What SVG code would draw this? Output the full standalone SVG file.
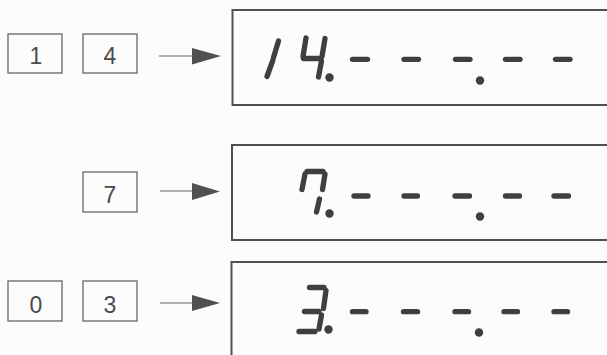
<svg xmlns="http://www.w3.org/2000/svg" width="607" height="355" viewBox="0 0 607 355">
  <style>
    .key rect { fill: none; stroke: #666; stroke-width: 1.3; }
    .key text { font-family: "Liberation Sans", Arial, sans-serif; font-size: 23px; fill: #4a4a4a; text-anchor: middle; }
    .disp rect { fill: none; stroke: #505050; stroke-width: 2; }
    .seg { stroke: #3f3f3f; stroke-width: 5.3; stroke-linecap: round; fill: none; }
    .dp { fill: #3f3f3f; }
    .conn line { stroke: #666; stroke-width: 1.2; }
    .conn polygon { fill: #505050; }
  </style>
  <rect x="0" y="0" width="607" height="355" fill="#fcfcfc"/>

  <!-- Row 1 keys -->
  <g id="key-1" class="key"><rect x="8" y="34" width="54" height="39"/><text x="36" y="64">1</text></g>
  <g id="key-4" class="key"><rect x="83" y="34" width="54" height="39"/><text x="110" y="64">4</text></g>
  <!-- Row 2 key -->
  <g id="key-7" class="key"><rect x="83" y="172" width="54" height="40"/><text x="110" y="202.5">7</text></g>
  <!-- Row 3 keys -->
  <g id="key-0" class="key"><rect x="8" y="281" width="54" height="40"/><text x="36" y="312.5">0</text></g>
  <g id="key-3" class="key"><rect x="83" y="281" width="54" height="40"/><text x="110" y="312.5">3</text></g>

  <!-- Connectors -->
  <g id="connectors" class="conn">
    <line x1="159" y1="56" x2="193" y2="56"/>
    <polygon points="192,48 221,56 192,64.5"/>
    <line x1="160" y1="191" x2="193" y2="191"/>
    <polygon points="192,183 220,191.5 192,200"/>
    <line x1="160" y1="303" x2="193" y2="303"/>
    <polygon points="192,295 220,303 192,311"/>
  </g>

  <!-- Display 1: 14.- - -.- - -->
  <g id="display-1" class="disp">
    <rect x="232.5" y="10" width="400" height="95"/>
    <line class="seg" x1="278.5" y1="41" x2="273.5" y2="57.5"/>
    <line class="seg" x1="272.8" y1="60.5" x2="267" y2="76.5"/>
    <line class="seg" x1="306" y1="38" x2="303" y2="56.5"/>
    <line class="seg" x1="303.5" y1="58.5" x2="319" y2="58.5"/>
    <line class="seg" x1="325" y1="38.5" x2="322" y2="56.5"/>
    <line class="seg" x1="321.5" y1="61" x2="318.5" y2="77"/>
    <circle class="dp" cx="329.5" cy="77.5" r="4.2"/>
    <line class="seg" x1="352.5" y1="59.3" x2="367.5" y2="59.3"/>
    <line class="seg" x1="404" y1="59.3" x2="418.5" y2="59.3"/>
    <line class="seg" x1="455.5" y1="59.3" x2="470" y2="59.3"/>
    <circle class="dp" cx="480" cy="80.5" r="4.2"/>
    <line class="seg" x1="505.5" y1="59.3" x2="520" y2="59.3"/>
    <line class="seg" x1="555.5" y1="59.3" x2="570" y2="59.3"/>
  </g>

  <!-- Display 2: 7.- - -.- - -->
  <g id="display-2" class="disp">
    <rect x="232" y="145" width="400" height="95"/>
    <line class="seg" x1="307" y1="171.5" x2="323" y2="171.5"/>
    <line class="seg" x1="305" y1="174" x2="302" y2="189.5"/>
    <line class="seg" x1="325" y1="174" x2="322.5" y2="189.5"/>
    <line class="seg" x1="319.5" y1="199" x2="316.5" y2="212"/>
    <circle class="dp" cx="329.5" cy="213.5" r="4.2"/>
    <line class="seg" x1="354" y1="196" x2="368" y2="196"/>
    <line class="seg" x1="404" y1="196" x2="417.5" y2="196"/>
    <line class="seg" x1="455" y1="196" x2="469.5" y2="196"/>
    <circle class="dp" cx="480" cy="216.5" r="4.2"/>
    <line class="seg" x1="505.5" y1="196" x2="519.5" y2="196"/>
    <line class="seg" x1="554" y1="196" x2="568.5" y2="196"/>
  </g>

  <!-- Display 3: 3.- - -.- - -->
  <g id="display-3" class="disp">
    <rect x="231.5" y="262" width="400" height="120"/>
    <line class="seg" x1="309.5" y1="287.5" x2="324" y2="287.5"/>
    <line class="seg" x1="326" y1="290.5" x2="323.5" y2="308.5"/>
    <line class="seg" x1="304.5" y1="311.5" x2="319" y2="311.5"/>
    <line class="seg" x1="321.5" y1="315" x2="319" y2="329"/>
    <line class="seg" x1="299" y1="331.5" x2="315" y2="331.5"/>
    <circle class="dp" cx="328.5" cy="329.5" r="4.2"/>
    <line class="seg" x1="352.5" y1="311.7" x2="366" y2="311.7"/>
    <line class="seg" x1="403.5" y1="311.7" x2="417.5" y2="311.7"/>
    <line class="seg" x1="455" y1="311.7" x2="468.5" y2="311.7"/>
    <circle class="dp" cx="479" cy="332.5" r="4.2"/>
    <line class="seg" x1="504" y1="311.7" x2="517.5" y2="311.7"/>
    <line class="seg" x1="554" y1="311.7" x2="567.5" y2="311.7"/>
  </g>
</svg>
